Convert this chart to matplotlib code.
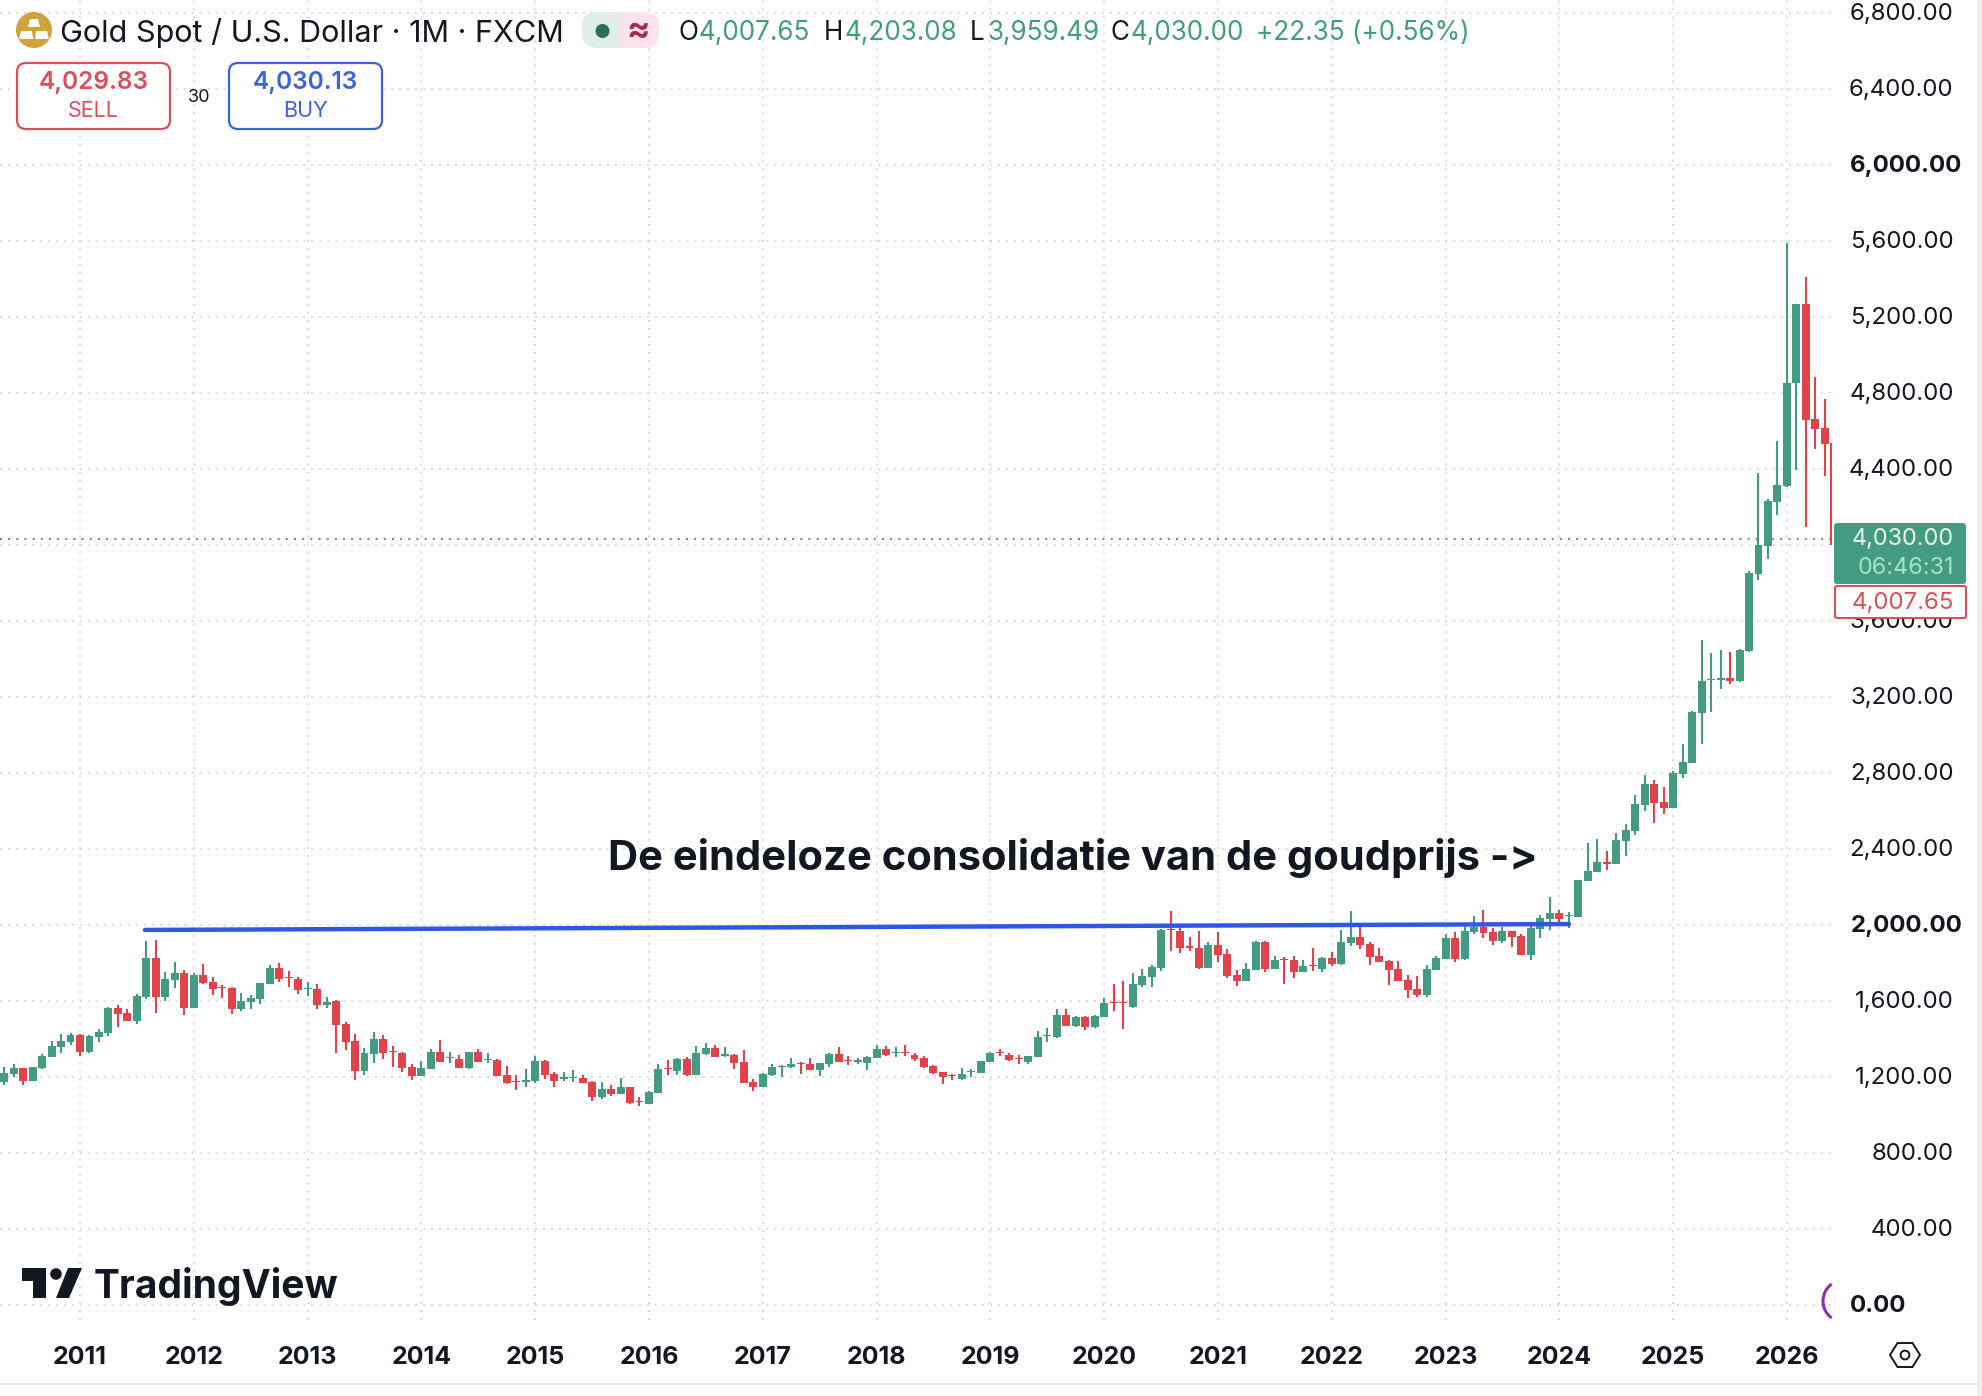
import numpy as np
import matplotlib
matplotlib.use("Agg")
import matplotlib.pyplot as plt
from matplotlib.patches import FancyBboxPatch, Polygon, Circle, Arc, Rectangle
from matplotlib.transforms import ScaledTranslation

plt.rcParams['font.family'] = ['Inter', 'DejaVu Sans']

# Monthly candles, May 2010 onward
opens = [1176,1216,1246,1179,1246,1307,1360,1385,1421,1332,1413,1430,1563,1535,1493,1621,1825,1621,1711,1748,1563,1735,1699,1672,1669,1558,1597,1613,1692,1772,1725,1716,1662,1663,1579,1600,1481,1388,1234,1323,1400,1337,1327,1253,1206,1244,1332,1299,1293,1248,1332,
 1288,1290,1211,1179,1172,1179,1284,1216,1191,1195,1195,1174,1095,1137,1112,1147,1072,1060,1118,1247,1232,1295,1211,1321,1351,1312,1316,1279,1174,1147,1211,1254,1251,1274,1268,1237,1267,1321,1290,1279,1274,1300,1347,1326,1330,1316,1300,1260,1225,1211,1190,1225,1221,
 1281,1332,1316,1300,1279,1307,1414,1411,1526,1470,1516,1463,1518,1593,1593,1570,1683,1728,1774,1977,1968,1888,1877,1774,1895,1847,1735,1705,1763,1911,1768,1821,1816,1753,1788,1768,1826,1795,1905,1937,1900,1837,1811,1768,1711,1663,1632,1763,1821,1932,
 1823,1963,1990,1962,1916,1969,1942,1842,1979,2032,2063,2046,2042,2232,2279,2330,2321,2442,2495,2632,2742,2647,2616,2795,2855,3116,3288,3288,3298,3284,3444,3848,3997,4228,4311,4851,5268,4663,4616]
highs = [1251,1269,1250,1254,1321,1388,1425,1430,1425,1420,1451,1570,1577,1556,1635,1916,1920,1751,1805,1762,1746,1795,1725,1683,1672,1641,1630,1693,1792,1800,1758,1727,1699,1690,1620,1606,1488,1425,1351,1435,1421,1363,1332,1269,1285,1348,1395,1330,1316,1334,1348,
 1325,1293,1258,1209,1242,1311,1290,1225,1225,1235,1211,1177,1172,1156,1195,1149,1095,1126,1268,1290,1298,1305,1363,1377,1367,1356,1319,1342,1188,1221,1268,1263,1300,1277,1300,1274,1326,1358,1311,1300,1311,1368,1363,1358,1368,1325,1311,1265,1228,1216,1247,1242,1285,
 1332,1348,1327,1316,1309,1442,1458,1556,1558,1521,1521,1526,1616,1689,1705,1747,1768,1790,1979,2074,1993,1937,1968,1911,1963,1874,1763,1800,1916,1916,1837,1832,1837,1816,1879,1832,1858,1974,2074,2000,1911,1879,1816,1811,1737,1732,1790,1835,1953,1963,
 2006,2048,2079,1983,1990,1971,1953,2006,2053,2148,2079,2069,2237,2432,2453,2390,2484,2532,2684,2790,2763,2726,2812,2953,3126,3500,3432,3447,3437,3453,3865,4377,4241,4548,5588,5268,5409,4883,4767]
lows = [1160,1202,1160,1177,1242,1305,1328,1367,1311,1328,1386,1418,1465,1495,1481,1613,1539,1602,1670,1528,1563,1690,1632,1618,1534,1549,1560,1586,1690,1702,1676,1637,1628,1560,1565,1328,1344,1186,1213,1274,1295,1253,1227,1186,1204,1242,1279,1276,1246,1244,1279,
 1274,1205,1163,1133,1149,1169,1190,1149,1181,1176,1168,1074,1086,1100,1110,1060,1048,1058,1116,1211,1211,1205,1209,1316,1305,1307,1242,1168,1126,1145,1205,1200,1247,1216,1235,1205,1253,1279,1263,1268,1237,1298,1311,1305,1311,1284,1247,1216,1163,1184,1186,1202,1221,
 1279,1309,1284,1270,1269,1305,1384,1407,1468,1465,1447,1460,1516,1547,1453,1563,1674,1674,1758,1863,1853,1863,1768,1772,1805,1721,1679,1703,1761,1753,1766,1689,1721,1751,1758,1753,1782,1790,1889,1874,1790,1803,1684,1703,1616,1621,1623,1761,1819,1805,
 1816,1953,1932,1895,1905,1884,1840,1816,1932,1974,2006,1984,2042,2230,2277,2290,2319,2363,2474,2600,2537,2584,2614,2774,2853,2953,3121,3242,3268,3279,3439,3816,3928,4158,4307,4395,4097,4506,4365]
closes = [1220,1246,1179,1251,1311,1363,1388,1421,1332,1416,1437,1563,1532,1497,1627,1825,1621,1714,1746,1563,1737,1695,1663,1669,1558,1600,1614,1693,1774,1716,1721,1660,1667,1579,1597,1476,1386,1234,1327,1400,1327,1332,1248,1206,1248,1332,1281,1304,1248,1332,1281,
 1295,1207,1170,1172,1184,1284,1211,1181,1198,1202,1170,1095,1137,1112,1147,1065,1067,1121,1242,1242,1295,1211,1326,1353,1307,1319,1272,1170,1146,1216,1253,1260,1268,1268,1237,1272,1321,1281,1284,1288,1305,1347,1316,1333,1325,1295,1253,1221,1200,1204,1214,1232,1283,
 1327,1325,1290,1293,1309,1411,1419,1526,1470,1516,1463,1521,1590,1588,1588,1689,1732,1779,1974,1972,1879,1881,1774,1895,1842,1732,1707,1768,1911,1768,1816,1816,1753,1784,1782,1826,1795,1911,1937,1895,1832,1805,1763,1705,1658,1632,1768,1826,1932,1821,
 1969,1990,1960,1916,1969,1937,1842,1984,2037,2063,2032,2053,2237,2284,2332,2323,2447,2500,2637,2742,2642,2616,2800,2858,3121,3284,3293,3298,3284,3447,3851,4000,4232,4314,4851,5268,4658,4611,4534]
first_month = -8                        # months before January 2011
last_wick = [4000, 4535]                # running month, body hidden behind the price tag
last_wick_x = 184.65

years = [str(y) for y in range(2011, 2027)]
year_months = [12 * i for i in range(len(years))]
price_ticks = [400 * i for i in range(18)]
bold_prices = {0, 2000, 6000}
price_labels = [f"{p:,.2f}" for p in price_ticks]

trend_months = [6.85, 157.0]
trend_values = [1974, 2005]
last_price = 4030.00

GREEN = "#439b81"
RED = "#e0444a"
BLUE = "#2f57e2"
INK = "#131722"
GRID = "#cfd1d4"

W, H = 1982, 1396
fig = plt.figure(figsize=(W / 100, H / 100), dpi=100, facecolor="white")
ax = fig.add_axes([0, 1 - 1320 / H, 1835 / W, 1320 / H])
ax.set_xlim((0 - 80) / 9.483, (1835 - 80) / 9.483)
ax.set_ylim((1305 - 1320) / 0.19, 1305 / 0.19)
for s in ax.spines.values():
    s.set_visible(False)

ax.set_xticks(year_months, years)
ax.yaxis.tick_right()
ax.set_yticks(price_ticks, price_labels)
ax.tick_params(axis="both", length=0)
ax.tick_params(axis="x", pad=18.5, labelsize=18, labelcolor=INK)
ax.tick_params(axis="y", pad=85.5, labelsize=17.3, labelcolor=INK)
for lab in ax.get_xticklabels():
    lab.set_fontweight("bold")
for tick, p in zip(ax.yaxis.get_major_ticks(), price_ticks):
    tick.label2.set_ha("right")
    tick.label2.set_va("center_baseline")
    if p in bold_prices:
        tick.label2.set_fontweight("bold")
        tick.label2.set_ha("left")
        tick.set_pad(11)
    tick.label2.set_transform(tick.label2.get_transform()
                              + ScaledTranslation(0, 1.5 / 100, fig.dpi_scale_trans))
ax.grid(True, color=GRID, lw=1.25, ls=(0, (1, 3.6)), zorder=0)
ax.set_axisbelow(True)

o, h, l, c = map(np.array, (opens, highs, lows, closes))
t = np.arange(len(o)) + first_month
colors = np.where(c >= o, GREEN, RED)
ax.vlines(t, l, h, colors=colors, lw=1.5, zorder=3)
ax.bar(t, np.abs(c - o), bottom=np.minimum(o, c), width=0.84, color=colors, lw=0, zorder=3)
ax.vlines(last_wick_x, last_wick[0], last_wick[1], colors=RED, lw=1.5, zorder=3)

ax.axhline(last_price, color=GREEN, lw=1.4, ls=(0, (1, 3.2)), zorder=2)
ax.plot(trend_months, trend_values, color=BLUE, lw=3.2, solid_capstyle="round", zorder=4)

# overlay in screen pixels for the TradingView interface
ui = fig.add_axes([0, 0, 1, 1], zorder=5)
ui.set_xlim(0, W)
ui.set_ylim(H, 0)
ui.axis("off")
ui.patch.set_alpha(0)

def label(x, y, s, size, color=INK, weight="normal", ha="left", va="center"):
    return ui.text(x, y, s, fontsize=size, color=color, fontweight=weight, ha=ha, va=va)

def box(x0, y0, x1, y1, r, fc, ec="none", lw=0):
    ui.add_patch(FancyBboxPatch((x0 + r, y0 + r), x1 - x0 - 2 * r, y1 - y0 - 2 * r,
                                boxstyle=f"round,pad={r},rounding_size={r}",
                                fc=fc, ec=ec, lw=lw))

label(608, 870, "De eindeloze consolidatie van de goudprijs ->", 30, weight="bold", va="baseline")

# header
ui.add_patch(Circle((34, 30), 18, fc="#cfa23a", ec="none"))
for pts in ([(30, 19), (38, 19), (40, 27), (28, 27)],
            [(21, 31), (32, 31), (33, 39), (19, 39)],
            [(36, 31), (47, 31), (49, 39), (35, 39)]):
    ui.add_patch(Polygon(pts, closed=True, fc="white", ec="none"))
label(60.5, 33, "Gold Spot / U.S. Dollar · 1M · FXCM", 22)
box(582, 12, 640, 48, 15, "#dfeee9")
box(620, 12, 659, 48, 15, "#fbe3e9")
ui.add_patch(Rectangle((620, 12), 20, 36, fc="#fbe3e9", ec="none"))
ui.add_patch(Circle((602.5, 31), 7, fc="#2b6e5c", ec="none"))
label(638, 31, "≈", 25, color="#a62a5a", weight="bold", ha="center")

for x, s, col in [(678, "O", INK), (699, "4,007.65", GREEN), (824, "H", INK), (845, "4,203.08", GREEN),
                  (970, "L", INK), (987, "3,959.49", GREEN), (1111, "C", INK), (1131, "4,030.00", GREEN),
                  (1256, "+22.35 (+0.56%)", GREEN)]:
    label(x, 33, s, 18.8, color=col)

box(17, 63, 170, 129, 9, "white", "#d9505a", 1.6)
box(229, 63, 382, 129, 9, "white", "#3d62e0", 1.6)
label(93.5, 83, "4,029.83", 17.6, color="#d9505a", weight="semibold", ha="center")
label(93.5, 111, "SELL", 15.5, color="#d9505a", ha="center")
label(305.5, 83, "4,030.13", 17.6, color="#3d62e0", weight="semibold", ha="center")
label(305.5, 111, "BUY", 15.5, color="#3d62e0", ha="center")
label(199.5, 98, "30", 13, ha="center")

# price tags
box(1834, 523, 1966, 584, 3, GREEN)
label(1954, 539, "4,030.00", 16.8, color="#eaf6f1", ha="right")
label(1954, 568, "06:46:31", 16.8, color="#a9e2cb", ha="right")
box(1835, 586, 1966, 618, 2, "white", "#d9505a", 1.5)
label(1954, 603, "4,007.65", 17.3, color="#d9505a", ha="right")

# TradingView mark
ui.add_patch(Polygon([(22, 1268), (46, 1268), (46, 1298), (33, 1298), (33, 1281), (22, 1281)], closed=True, fc=INK, ec="none"))
ui.add_patch(Circle((56, 1274), 5.8, fc=INK, ec="none"))
ui.add_patch(Polygon([(68, 1268), (82, 1268), (69, 1298), (56, 1298)], closed=True, fc=INK, ec="none"))
label(94, 1298, "TradingView", 28.1, weight="bold", va="baseline")

# lower right controls
ui.add_patch(Arc((1844, 1301), 42, 42, theta1=126, theta2=234, color="#8e2fb0", lw=2.2))
ui.add_patch(Polygon([(1890, 1355), (1897.5, 1343), (1912.5, 1343), (1920, 1355), (1912.5, 1367), (1897.5, 1367)],
                     closed=True, fc="none", ec=INK, lw=1.4))
ui.add_patch(Circle((1905, 1355), 4.4, fc="none", ec=INK, lw=1.4))

# window edges
ui.add_patch(Rectangle((1977, 0), 5, H, fc="#eeeeee", ec="none"))
ui.add_patch(Rectangle((0, 1382.5), 1977, 2, fc="#e8e8e8", ec="none"))

fig.savefig("out.png", dpi=100, facecolor="white")
